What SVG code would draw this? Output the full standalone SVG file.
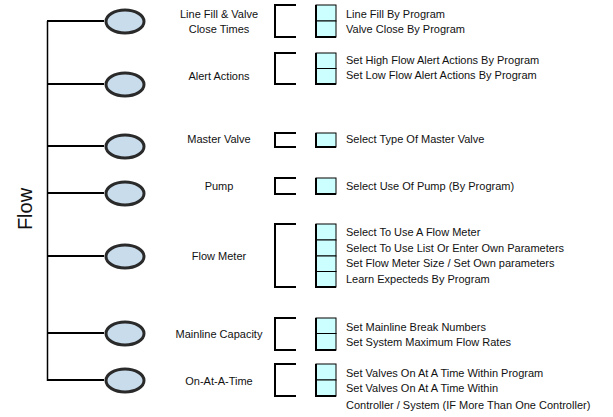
<svg xmlns="http://www.w3.org/2000/svg" width="613" height="417" viewBox="0 0 613 417">
  <style>
    text { font-family: "Liberation Sans", Arial, sans-serif; fill: #111; }
    .lbl { font-size: 11px; text-anchor: middle; }
    .item { font-size: 11px; }
    .title { font-size: 20px; }
    .trunk { stroke: #000; stroke-width: 1.5; fill: none; }
    .branch { stroke: #000; stroke-width: 2; fill: none; }
    .node { fill: #c9dcec; stroke: #2a2a2a; stroke-width: 3; }
    .brk { stroke: #000; stroke-width: 2; fill: none; }
    .cell { fill: #ccffff; stroke: #000; stroke-width: 1; }
    .edge { stroke: #000; stroke-width: 2; fill: none; }
  </style>

  <!-- vertical title -->
  <text class="title" transform="translate(32,209) rotate(-90)" text-anchor="middle">Flow</text>

  <!-- tree connectors -->
  <g id="connectors">
    <line class="trunk" x1="47.5" y1="21" x2="47.5" y2="381"/>
    <line class="branch" x1="47" y1="21" x2="104" y2="21"/>
    <line class="branch" x1="47" y1="84" x2="104" y2="84"/>
    <line class="branch" x1="47" y1="146" x2="104" y2="146"/>
    <line class="branch" x1="47" y1="193" x2="104" y2="193"/>
    <line class="branch" x1="47" y1="256" x2="104" y2="256"/>
    <line class="branch" x1="47" y1="333" x2="104" y2="333"/>
    <line class="branch" x1="47" y1="380" x2="104" y2="380"/>
  </g>

  <!-- Line Fill & Valve Close Times -->
  <g id="line-fill">
    <ellipse class="node" cx="125" cy="21.5" rx="19" ry="11.5"/>
    <text class="lbl" x="219" y="18">Line Fill &amp; Valve</text>
    <text class="lbl" x="219" y="33">Close Times</text>
    <path class="brk" d="M296,5 H275 V37 H296"/>
    <rect class="cell" x="316" y="5" width="20" height="16"/>
    <rect class="cell" x="316" y="21" width="20" height="16"/>
    <path class="edge" d="M316,5 V37 H336"/>
    <text class="item" x="346" y="17.5">Line Fill By Program</text>
    <text class="item" x="346" y="33">Valve Close By Program</text>
  </g>

  <!-- Alert Actions -->
  <g id="alert-actions">
    <ellipse class="node" cx="125" cy="84.5" rx="19" ry="11.5"/>
    <text class="lbl" x="219" y="80">Alert Actions</text>
    <path class="brk" d="M296,53 H275 V84 H296"/>
    <rect class="cell" x="316" y="53" width="20" height="15.5"/>
    <rect class="cell" x="316" y="68.5" width="20" height="15.5"/>
    <path class="edge" d="M316,53 V84 H336"/>
    <text class="item" x="346" y="64">Set High Flow Alert Actions By Program</text>
    <text class="item" x="346" y="79">Set Low Flow Alert Actions By Program</text>
  </g>

  <!-- Master Valve -->
  <g id="master-valve">
    <ellipse class="node" cx="125" cy="146.5" rx="19" ry="11.5"/>
    <text class="lbl" x="219" y="143">Master Valve</text>
    <path class="brk" d="M296,133 H275 V147 H296"/>
    <rect class="cell" x="316" y="133" width="20" height="14"/>
    <path class="edge" d="M316,133 V147 H336"/>
    <text class="item" x="346" y="143">Select Type Of Master Valve</text>
  </g>

  <!-- Pump -->
  <g id="pump">
    <ellipse class="node" cx="125" cy="193.5" rx="19" ry="11.5"/>
    <text class="lbl" x="219" y="190">Pump</text>
    <path class="brk" d="M296,178 H275 V194 H296"/>
    <rect class="cell" x="316" y="178" width="20" height="16"/>
    <path class="edge" d="M316,178 V194 H336"/>
    <text class="item" x="346" y="190">Select Use Of Pump (By Program)</text>
  </g>

  <!-- Flow Meter -->
  <g id="flow-meter">
    <ellipse class="node" cx="125" cy="256.5" rx="19" ry="11.5"/>
    <text class="lbl" x="219" y="260">Flow Meter</text>
    <path class="brk" d="M296,224 H275 V287 H296"/>
    <rect class="cell" x="316" y="224" width="20" height="16"/>
    <rect class="cell" x="316" y="240" width="20" height="16"/>
    <rect class="cell" x="316" y="256" width="20" height="15.5"/>
    <rect class="cell" x="316" y="271.5" width="20" height="15.5"/>
    <path class="edge" d="M316,224 V287 H336"/>
    <text class="item" x="346" y="236">Select To Use A Flow Meter</text>
    <text class="item" x="346" y="252">Select To Use List Or Enter Own Parameters</text>
    <text class="item" x="346" y="267">Set Flow Meter Size / Set Own parameters</text>
    <text class="item" x="346" y="283">Learn Expecteds By Program</text>
  </g>

  <!-- Mainline Capacity -->
  <g id="mainline-capacity">
    <ellipse class="node" cx="125" cy="333.5" rx="19" ry="11.5"/>
    <text class="lbl" x="219" y="338">Mainline Capacity</text>
    <path class="brk" d="M296,318 H275 V350 H296"/>
    <rect class="cell" x="316" y="318" width="20" height="15.5"/>
    <rect class="cell" x="316" y="333.5" width="20" height="16.5"/>
    <path class="edge" d="M316,318 V350 H336"/>
    <text class="item" x="346" y="331">Set Mainline Break Numbers</text>
    <text class="item" x="346" y="346">Set System Maximum Flow Rates</text>
  </g>

  <!-- On-At-A-Time -->
  <g id="on-at-a-time">
    <ellipse class="node" cx="125" cy="380.5" rx="19" ry="11.5"/>
    <text class="lbl" x="219" y="385">On-At-A-Time</text>
    <path class="brk" d="M296,364 H275 V396 H296"/>
    <rect class="cell" x="316" y="364" width="20" height="16"/>
    <rect class="cell" x="316" y="380" width="20" height="16"/>
    <path class="edge" d="M316,364 V396 H336"/>
    <text class="item" x="346" y="377">Set Valves On At A Time Within Program</text>
    <text class="item" x="346" y="392">Set Valves On At A Time Within</text>
    <text class="item" x="346" y="409">Controller / System (IF More Than One Controller)</text>
  </g>
</svg>
